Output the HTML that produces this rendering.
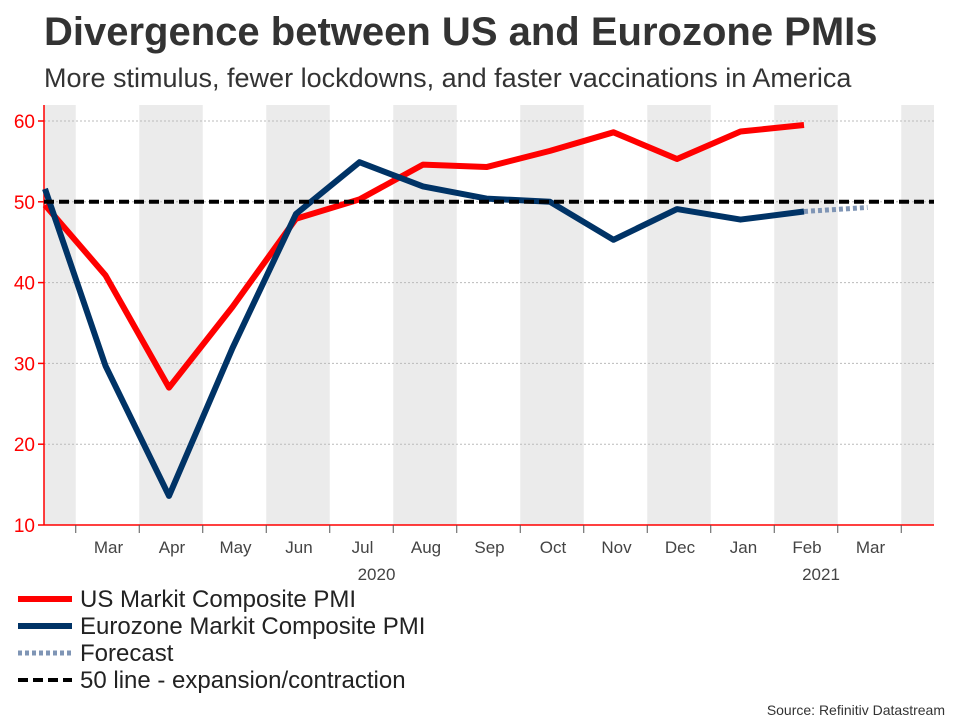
<!DOCTYPE html>
<html><head><meta charset="utf-8">
<style>
body{margin:0;background:#fff;font-family:"Liberation Sans",Arial,sans-serif;}
#wrap{position:relative;width:960px;height:720px;overflow:hidden;}
</style></head>
<body>
<div id="wrap">
<svg id="chart" width="960" height="720" xmlns="http://www.w3.org/2000/svg">
<text x="44" y="45" font-size="40" font-weight="bold" fill="#333" font-family="Liberation Sans, sans-serif">Divergence between US and Eurozone PMIs</text>
<text x="44" y="87" font-size="27" fill="#333" font-family="Liberation Sans, sans-serif">More stimulus, fewer lockdowns, and faster vaccinations in America</text>
<g id="bands"></g><g id="grid"></g><g id="axes"></g><g id="series"></g>
<g id="legend" font-family="Liberation Sans, sans-serif" font-size="24" fill="#222">
<line x1="18" y1="599" x2="72" y2="599" stroke="#ff0000" stroke-width="6"/>
<text x="80" y="607">US Markit Composite PMI</text>
<line x1="18" y1="626" x2="72" y2="626" stroke="#003366" stroke-width="6"/>
<text x="80" y="634">Eurozone Markit Composite PMI</text>
<line x1="18" y1="653" x2="72" y2="653" stroke="#7f95b5" stroke-width="5" stroke-dasharray="4,3"/>
<text x="80" y="661">Forecast</text>
<line x1="18" y1="680" x2="72" y2="680" stroke="#000" stroke-width="4" stroke-dasharray="10,5"/>
<text x="80" y="688">50 line - expansion/contraction</text>
</g>
<text x="945" y="715" text-anchor="end" font-size="14" fill="#333" font-family="Liberation Sans, sans-serif">Source: Refinitiv Datastream</text>
</svg>
</div>
<script>
const monthLabels=["Mar","Apr","May","Jun","Jul","Aug","Sep","Oct","Nov","Dec","Jan","Feb","Mar"];
const usValues=[49.6,40.9,27.0,37.0,47.9,50.3,54.6,54.3,56.3,58.6,55.3,58.7,59.5];
const ezValues=[51.6,29.7,13.6,31.9,48.5,54.9,51.9,50.4,50.0,45.3,49.1,47.8,48.8];
const forecastValues=[48.8,49.3];
const forecastStart=12;
const yTicks=[10,20,30,40,50,60];
const threshold=50;

const NS="http://www.w3.org/2000/svg";
const L=44,R=934,T=105,B=525;
const xStep=63.5,x0=42;
function x(i){return x0+i*xStep;}
function y(v){return 525-(v-10)*8.08;}
function mk(tag,attrs,parent){const e=document.createElementNS(NS,tag);for(const k in attrs)e.setAttribute(k,attrs[k]);document.getElementById(parent).appendChild(e);return e;}

const nMonths=15;
for(let m=0;m<nMonths;m+=2){
  let a=Math.max(L,x(m)-xStep/2+2), b=Math.min(R,x(m)+xStep/2+2);
  if(b<=a)continue;
  const r=mk('rect',{x:a,y:T,width:b-a,height:B-T,fill:'#ebebeb'},'bands');
  
  
}
yTicks.forEach(v=>{
  if(v>10){const g=mk('line',{x1:L,x2:R,y1:y(v),y2:y(v),stroke:'#bbb','stroke-width':1,'stroke-dasharray':'2,2'},'grid');
  
  }
  const t=mk('line',{x1:L-6,x2:L,y1:y(v),y2:y(v),stroke:'#f00','stroke-width':1.5},'axes');
  
  
  const lb=mk('text',{x:L-9,y:y(v)+7,'text-anchor':'end','font-size':19,fill:'#f00','font-family':'Liberation Sans, sans-serif'},'axes');
  lb.textContent=v;
  
  
});
const ya=mk('line',{x1:L,x2:L,y1:T,y2:B,stroke:'#f00','stroke-width':1.5},'axes');


const xa=mk('line',{x1:L,x2:R,y1:B,y2:B,stroke:'#f00','stroke-width':1.5},'axes');


for(let m=1;m<nMonths;m++){
  const bx=x(m)-xStep/2+2;
  const t=mk('line',{x1:bx,x2:bx,y1:B,y2:B+8,stroke:'#555','stroke-width':1},'axes');
  
  
}
monthLabels.forEach((s,i)=>{
  const t=mk('text',{x:x(i+1)+3,y:553,'text-anchor':'middle','font-size':17,fill:'#444','font-family':'Liberation Sans, sans-serif'},'axes');
  t.textContent=s;
  
  
});
[["2020",x(5)+17],["2021",x(12)+17]].forEach(([s,px])=>{
  const t=mk('text',{x:px,y:580,'text-anchor':'middle','font-size':17,fill:'#444','font-family':'Liberation Sans, sans-serif'},'axes');
  t.textContent=s;
  
  
});
function pts(vals,off){return vals.map((v,i)=>(Math.max(L+1,x(i+off)))+','+y(v)).join(' ');}
const us=mk('polyline',{points:pts(usValues,0),fill:'none',stroke:'#ff0000','stroke-width':6,'stroke-linejoin':'round'},'series');


const ez=mk('polyline',{points:pts(ezValues,0),fill:'none',stroke:'#003366','stroke-width':6,'stroke-linejoin':'round'},'series');


const fc=mk('polyline',{points:pts(forecastValues,forecastStart),fill:'none',stroke:'#7f95b5','stroke-width':5,'stroke-dasharray':'4,3'},'series');


const th=mk('line',{x1:L,x2:R,y1:y(threshold),y2:y(threshold),stroke:'#000','stroke-width':4,'stroke-dasharray':'10,5'},'series');


</script>
</body></html>
